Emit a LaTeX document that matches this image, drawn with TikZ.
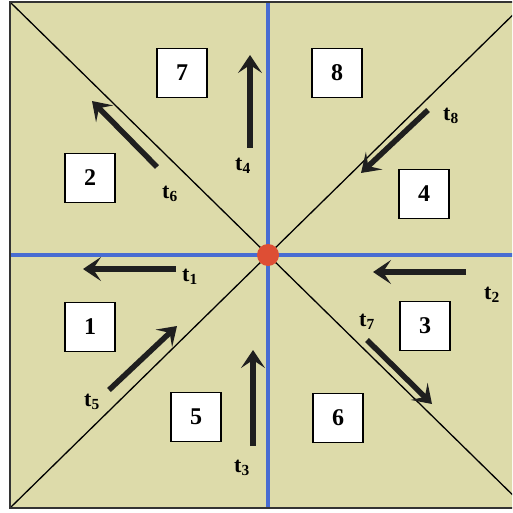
\documentclass[tikz,border=0pt]{standalone}
\usepackage{fontspec}
\setmainfont{Liberation Serif}
\usetikzlibrary{arrows.meta}
\definecolor{khaki}{RGB}{221,219,170}
\definecolor{lineblue}{RGB}{72,108,210}
\definecolor{dotred}{RGB}{222,78,52}
\tikzset{
  numbox/.style={draw=black, line width=1.3pt, fill=white, minimum width=50pt, minimum height=49pt, inner sep=0pt, font=\fontsize{24}{24}\selectfont\bfseries},
  tarrow/.style={line width=5.5pt, -{Stealth[length=18pt, width=24pt, inset=8pt]}, black!88},
  tlabel/.style={inner sep=0pt, font=\fontsize{22}{22}\selectfont\bfseries},
  diag/.style={line width=1.3pt, black},
  axis/.style={line width=4pt, lineblue}
}
\begin{document}
\begin{tikzpicture}[x=1pt,y=-1pt]
\useasboundingbox (0,0) rectangle (512,513);
\clip (0,0) rectangle (512,513);
\fill[white] (0,0) rectangle (512,513);
\coordinate (tl) at (10,2);
\coordinate (tr) at (526,2);
\coordinate (br) at (526,508);
\coordinate (bl) at (10,508);
\coordinate (c) at (268,255);
\fill[khaki] (tl) rectangle (br);
\draw[diag] (tl) -- (br);
\draw[diag] (bl) -- (tr);
\coordinate (vt) at (268,2);
\coordinate (vb) at (268,508);
\coordinate (hl) at (10,255);
\coordinate (hr) at (526,255);
\draw[axis] (vt) -- (vb);
\draw[axis] (hl) -- (hr);
\draw[line width=2pt, black!80] (tl) rectangle (br);
\fill[dotred] (c) circle (11pt);
% boxes
\node[numbox] (b7) at (182,73) {7};
\node[numbox] (b8) at (337,73) {8};
\node[numbox] (b2) at (90,178) {2};
\node[numbox] (b4) at (424,194) {4};
\node[numbox] (b1) at (90,327) {1};
\node[numbox] (b3) at (425,326) {3};
\node[numbox] (b5) at (196,417) {5};
\node[numbox] (b6) at (338,418) {6};
% arrows
\coordinate (a4s) at (250,148); \coordinate (a4e) at (250,55);
\coordinate (a1s) at (176,269); \coordinate (a1e) at (83,269);
\coordinate (a2s) at (466,272); \coordinate (a2e) at (373,272);
\coordinate (a3s) at (253,446); \coordinate (a3e) at (253,350);
\coordinate (a5s) at (109,390); \coordinate (a5e) at (177,326);
\coordinate (a6s) at (157,167); \coordinate (a6e) at (92,101);
\coordinate (a7s) at (367,340); \coordinate (a7e) at (432,404);
\coordinate (a8s) at (428,110); \coordinate (a8e) at (361,173);
\draw[tarrow] (a4s) -- (a4e);
\draw[tarrow] (a1s) -- (a1e);
\draw[tarrow] (a2s) -- (a2e);
\draw[tarrow] (a3s) -- (a3e);
\draw[tarrow] (a5s) -- (a5e);
\draw[tarrow] (a6s) -- (a6e);
\draw[tarrow] (a7s) -- (a7e);
\draw[tarrow] (a8s) -- (a8e);
% labels
\node[tlabel] (l4) at (243,166) {t$_{\mathbf 4}$};
\node[tlabel] (l1) at (190,277) {t$_{\mathbf 1}$};
\node[tlabel] (l2) at (492,295) {t$_{\mathbf 2}$};
\node[tlabel] (l3) at (242,468) {t$_{\mathbf 3}$};
\node[tlabel] (l5) at (92,402) {t$_{\mathbf 5}$};
\node[tlabel] (l6) at (170,194) {t$_{\mathbf 6}$};
\node[tlabel] (l7) at (367,322) {t$_{\mathbf 7}$};
\node[tlabel] (l8) at (451,116) {t$_{\mathbf 8}$};
\end{tikzpicture}
\end{document}
